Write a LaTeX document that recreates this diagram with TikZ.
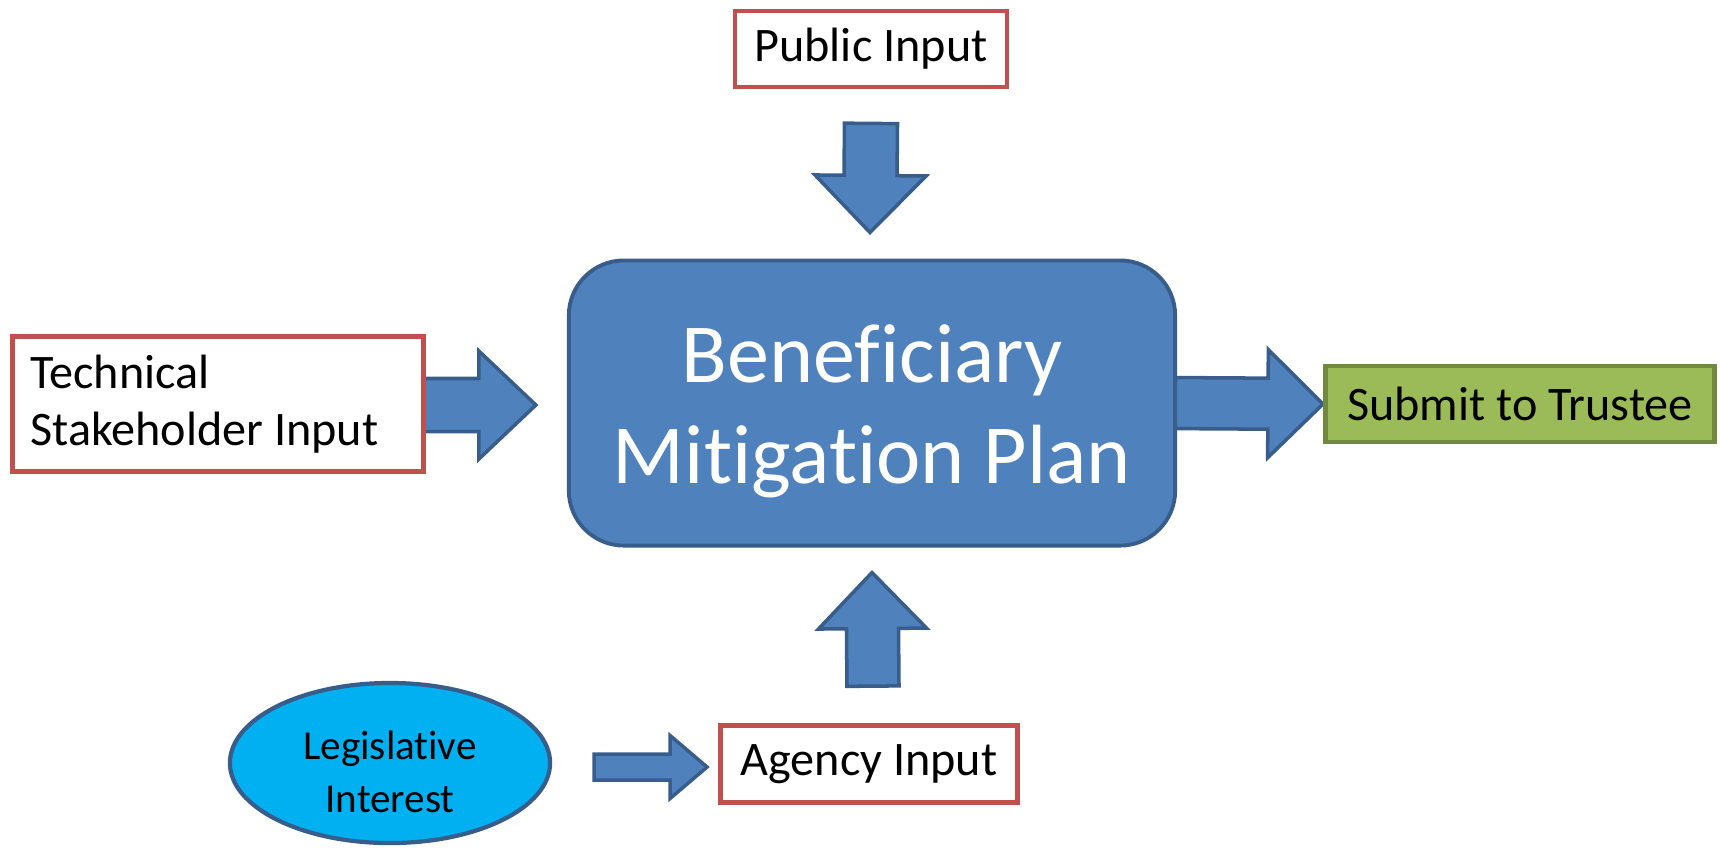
\documentclass[tikz,border=0pt]{standalone}
\usepackage{fontspec}
\setmainfont{Carlito}[Ligatures=NoCommon]
\usetikzlibrary{calc,shapes,backgrounds}

\definecolor{planblue}{HTML}{4F81BD}
\definecolor{planedge}{HTML}{385D8A}
\definecolor{inputred}{HTML}{C0504D}
\definecolor{trusteegreen}{HTML}{9BBB59}
\definecolor{trusteeedge}{HTML}{71893F}
\definecolor{legiscyan}{HTML}{00B0F0}

\tikzset{
  inputbox/.style={draw=inputred, line width=1.35pt, fill=white, inner sep=0pt,
    font=\fontsize{13.7}{16.2}\selectfont},
  plan/.style={draw=planedge, fill=planblue, line width=1.1pt, rounded corners=0.55cm,
    minimum width=6.06cm, minimum height=2.85cm},
  plantext/.style={text=white, align=center, yshift=-0.08cm,
    font=\fontsize{23.9}{28.6}\selectfont},
  submitbox/.style={draw=trusteeedge, fill=trusteegreen, line width=1.35pt, inner sep=0pt,
    minimum width=3.89cm, minimum height=0.76cm, font=\fontsize{13.7}{16.2}\selectfont},
  legisblob/.style={ellipse, draw=planedge, fill=legiscyan, line width=1.2pt, inner sep=0pt,
    minimum width=3.2cm, minimum height=1.6cm},
  legistext/.style={align=center, yshift=-0.09cm, font=\fontsize{11.7}{15}\selectfont},
  arrowbody/.style={draw=planedge, fill=planblue, line width=1pt, line join=miter},
}

% block arrow: tail, tip, half shaft, half head, head length
\newcommand{\blockarrow}[5]{%
  \coordinate (hb) at ($(#2)!#5!(#1)$);
  \draw[arrowbody] ($(#1)!#3!-90:(#2)$) -- ($(hb)!#3!-90:(#2)$) -- ($(hb)!#4!-90:(#2)$)
    -- (#2) -- ($(hb)!#4!90:(#2)$) -- ($(hb)!#3!90:(#2)$) -- ($(#1)!#3!90:(#2)$) -- cycle;
}

\begin{document}
\begin{tikzpicture}[x=0.01cm, y=-0.01cm]
  \useasboundingbox (0,0) rectangle (1720,853);

  \node[plan, label={[plantext]center:Beneficiary\\Mitigation Plan}] (plan) at (872,403) {};
  \node[inputbox, minimum width=2.72cm, minimum height=0.76cm] (pub) at (871,49) {Public Input};
  \node[inputbox, minimum height=1.35cm, inner xsep=1.8mm, text width=3.75cm, align=flush left]
    (tech) at (218,404) {Technical\\Stakeholder Input};
  \node[submitbox] (trustee) at (1520,404) {Submit to Trustee};
  \node[inputbox, minimum width=2.97cm, minimum height=0.77cm] (agency) at (869,764) {Agency Input};
  \node[legisblob, label={[legistext]center:Legislative\\Interest}] (legis) at (390,763) {};

  % the fat arrows go under the boxes
  \begin{pgfonlayer}{background}
    \coordinate (pubtail) at ($(pub.south)+(0,34)$);
    \coordinate (pubtip) at ($(plan.north)+(-2,-26)$);
    \blockarrow{pubtail}{pubtip}{2.65mm}{5.55mm}{5.7mm}
    \coordinate (techtail) at ($(tech.east)+(-20,1)$);
    \coordinate (techtip) at ($(plan.west)+(-31,2)$);
    \blockarrow{techtail}{techtip}{2.65mm}{5.4mm}{5.7mm}
    \coordinate (plantail) at ($(plan.east)+(-10,0)$);
    \coordinate (trusteetip) at (trustee.west);
    \blockarrow{plantail}{trusteetip}{2.55mm}{5.4mm}{5.5mm}
    \coordinate (agencytail) at ($(agency.north)+(4,-37)$);
    \coordinate (agencytip) at ($(plan.south)+(0,25)$);
    \blockarrow{agencytail}{agencytip}{2.6mm}{5.4mm}{5.6mm}
    \coordinate (legistail) at ($(legis.east)+(42,4)$);
    \coordinate (legistip) at ($(agency.west)+(-11,3)$);
    \blockarrow{legistail}{legistip}{1.3mm}{3.15mm}{3.7mm}
  \end{pgfonlayer}
\end{tikzpicture}
\end{document}
